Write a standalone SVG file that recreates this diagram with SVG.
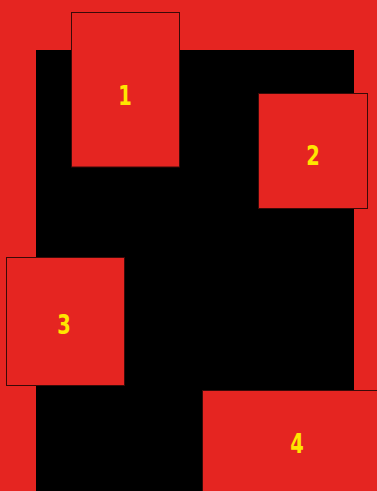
<svg xmlns="http://www.w3.org/2000/svg" width="377" height="491" viewBox="0 0 377 491">
<style>
.box{fill:#E52521;stroke:#3a0a08;stroke-width:1}
.lbl{fill:#FFE600;font-family:"DejaVu Sans Condensed","DejaVu Sans",sans-serif;font-weight:bold;font-size:27px;text-anchor:middle;dominant-baseline:central}
</style>
<rect x="0" y="0" width="377" height="491" fill="#E52521"/>
<rect x="36" y="50" width="318" height="441" fill="#000000"/>
<g id="node1"><rect class="box" x="71.5" y="12.5" width="108" height="154.5"/><text class="lbl" x="125" y="96" transform="translate(125 96) scale(0.8 1) translate(-125 -96)">1</text></g>
<g id="node2"><rect class="box" x="258.5" y="93.5" width="109" height="115"/><text class="lbl" x="313" y="156" transform="translate(313 156) scale(0.8 1) translate(-313 -156)">2</text></g>
<g id="node3"><rect class="box" x="6.5" y="257.5" width="118" height="128"/><text class="lbl" x="64" y="325" transform="translate(64 325) scale(0.8 1) translate(-64 -325)">3</text></g>
<g id="node4"><rect class="box" x="202.5" y="390.5" width="180" height="110"/><text class="lbl" x="297" y="444" transform="translate(297 444) scale(0.8 1) translate(-297 -444)">4</text></g>
<g id="connectors"/>
</svg>
